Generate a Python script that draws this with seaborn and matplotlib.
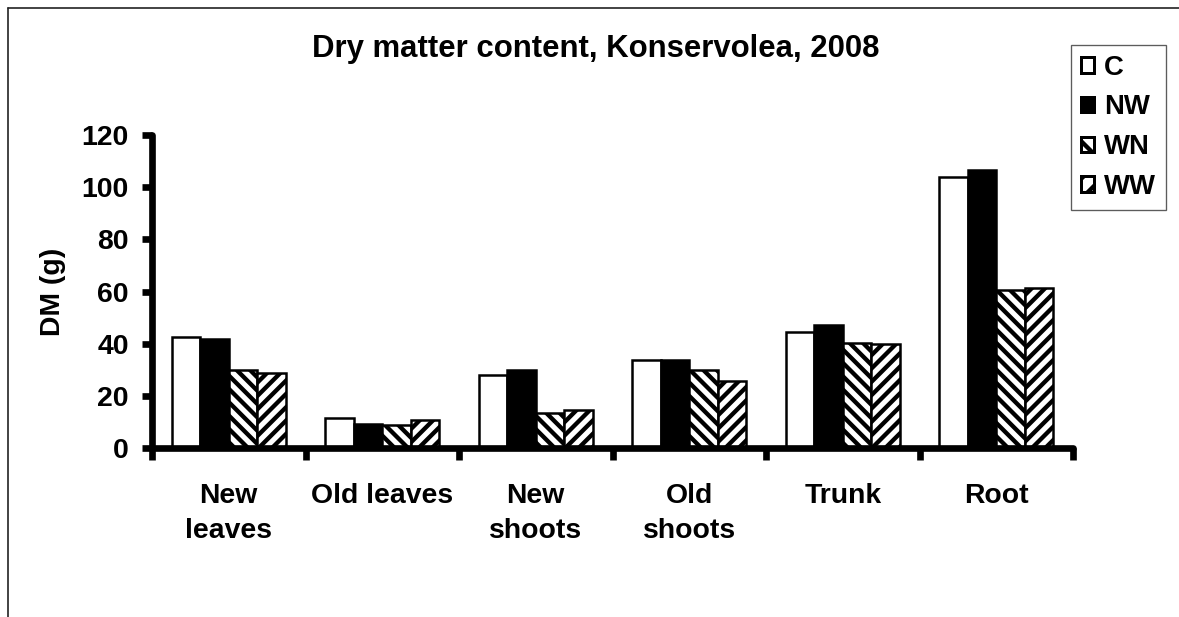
import matplotlib
matplotlib.use("Agg")
import matplotlib.pyplot as plt
import matplotlib.patches as mpatches
from matplotlib.lines import Line2D
import seaborn as sns
import pandas as pd

categories = ["New\nleaves", "Old leaves", "New\nshoots", "Old\nshoots", "Trunk", "Root"]
treatments = ["C", "NW", "WN", "WW"]
vals_C = [42.6, 11.7, 28.1, 33.8, 44.7, 103.8]
vals_NW = [41.7, 9.3, 30.0, 33.8, 47.3, 106.5]
vals_WN = [30.0, 8.8, 13.6, 30.0, 40.5, 60.8]
vals_WW = [28.7, 10.8, 14.6, 25.9, 39.9, 61.4]
y_ticks = [0, 20, 40, 60, 80, 100, 120]

title = "Dry matter content, Konservolea, 2008"
ylabel = "DM (g)"

sns.set_theme(style="white")
plt.rcParams["font.family"] = ["Liberation Sans", "DejaVu Sans"]
plt.rcParams["font.weight"] = "bold"
plt.rcParams["text.color"] = "black"
plt.rcParams["axes.labelcolor"] = "black"
plt.rcParams["xtick.color"] = "black"
plt.rcParams["ytick.color"] = "black"
plt.rcParams["hatch.linewidth"] = 2.6
plt.rcParams["hatch.color"] = "black"

rows = []
for t, vals in zip(treatments, [vals_C, vals_NW, vals_WN, vals_WW]):
    for c, v in zip(categories, vals):
        rows.append({"part": c, "treat": t, "dm": v})
df = pd.DataFrame(rows)

palette = {"C": "white", "NW": "black", "WN": "white", "WW": "white"}
hatches = {"C": "", "NW": "", "WN": "\\\\\\", "WW": "///"}
leg_hatches = {"C": "", "NW": "", "WN": "\\\\", "WW": "//"}

dpi = 120
fig = plt.figure(figsize=(1179 / dpi, 617 / dpi), dpi=dpi)
ax = fig.add_axes([152 / 1179, 1 - 448.3 / 617, 921 / 1179, 313.3 / 617])

sns.barplot(data=df, x="part", y="dm", hue="treat", order=categories,
            hue_order=treatments, palette=palette, width=0.74,
            edgecolor="black", linewidth=1.5, legend=False, ax=ax, errorbar=None)

for cont, t in zip(ax.containers, treatments):
    for p in cont:
        p.set_hatch(hatches[t])
        p.set_edgecolor("black")

ax.set_ylim(0, 120)
ax.set_xlim(-0.5, len(categories) - 0.5)
ax.set_yticks(y_ticks)
ax.set_yticklabels([str(v) for v in y_ticks], fontsize=17, fontweight="bold", color="black")
ax.set_xticks(range(len(categories)))
ax.set_xticklabels(categories, fontsize=17, fontweight="bold", linespacing=1.45, va="top",
                   color="black")
ax.set_xticks([i - 0.5 for i in range(len(categories) + 1)], minor=True)
ax.tick_params(axis="x", which="major", bottom=True, length=0, pad=21)
ax.tick_params(axis="x", which="minor", bottom=True, length=7, width=4, direction="out",
               color="black")
ax.tick_params(axis="y", which="major", left=True, length=6, width=4, direction="out",
               color="black", pad=8)

for s in ["top", "right"]:
    ax.spines[s].set_visible(False)
for s in ["left", "bottom"]:
    ax.spines[s].set_linewidth(4)
    ax.spines[s].set_color("black")
    ax.spines[s].set_capstyle("round")

ax.set_xlabel("")
ax.set_ylabel(ylabel, fontsize=17, fontweight="bold", color="black")
ax.yaxis.set_label_coords((66 - 152) / 921, 0.5)

fig.text(596 / 1179, 1 - 49 / 617, title, ha="center", va="center",
         fontsize=18.7, fontweight="bold", color="black")

handles = [mpatches.Patch(facecolor=palette[t], edgecolor="black", hatch=leg_hatches[t],
                          linewidth=1.8, label=t) for t in treatments]
leg = fig.legend(handles=handles, loc="upper left",
                 bbox_to_anchor=(1071 / 1179, 1 - 45 / 617), bbox_transform=fig.transFigure,
                 borderaxespad=0, fontsize=16.5, frameon=True, fancybox=False,
                 handlelength=0.5, handleheight=0.5, handletextpad=0.35,
                 labelspacing=0.5, borderpad=0.35)
leg.get_frame().set_edgecolor("#333333")
leg.get_frame().set_linewidth(0.8)
for txt in leg.get_texts():
    txt.set_fontweight("bold")
    txt.set_color("black")

fig.add_artist(Line2D([8 / 1179, 1.0], [1 - 8 / 617, 1 - 8 / 617], transform=fig.transFigure,
                      color="#222222", linewidth=1.0))
fig.add_artist(Line2D([8 / 1179, 8 / 1179], [0.0, 1 - 8 / 617], transform=fig.transFigure,
                      color="#222222", linewidth=1.0))

fig.savefig("out.png", dpi=dpi, facecolor="white")
